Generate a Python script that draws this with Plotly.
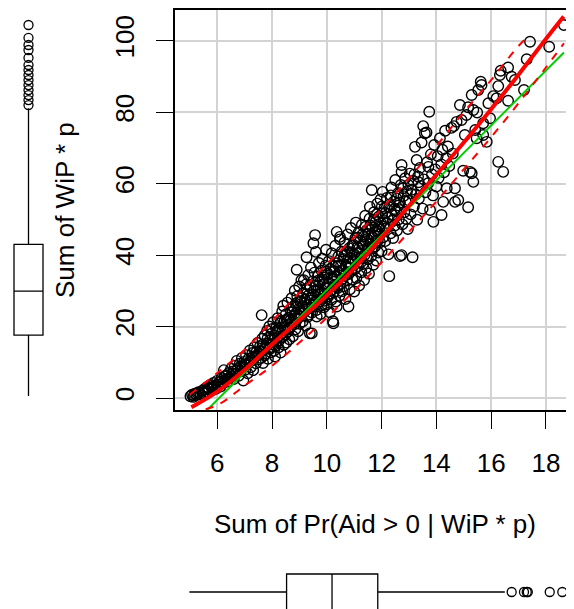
import plotly.graph_objects as go

# scatter points (x = Sum of Pr(Aid > 0 | WiP * p), y = Sum of WiP * p)
pts = [
    (5.02,0.5),(5.08,0.9),(5.12,0.3),(5.18,1.2),(5.25,0.8),(5.31,1.6),(5.38,1.1),(5.44,2.0),(5.49,1.4),(5.55,2.6),
    (5.58,1.9),(5.63,3.1),(5.7,2.4),(5.74,3.6),(5.81,2.9),(5.86,4.2),(5.9,3.3),(5.95,2.6),(5.99,4.8),(6.03,3.8),
    (6.08,4.5),(6.12,3.2),(6.16,5.6),(6.2,4.1),(6.24,7.8),(6.29,5.0),(6.33,6.3),(6.37,4.6),(6.42,7.0),(6.46,5.7),(6.5,8.2),(6.53,6.1),
    (6.57,7.4),(6.6,5.3),(6.64,9.0),(6.68,6.8),(6.71,10.4),(6.75,8.1),(6.78,6.2),(6.82,9.6),(6.86,7.5),(6.9,11.2),(6.93,8.7),(6.95,4.9),(6.98,10.1),(7.02,7.9),
    (7.05,12.0),(7.08,9.3),(7.11,6.9),(7.14,11.0),(7.19,13.3),(7.22,8.6),(7.25,10.5),(7.28,12.6),(7.31,7.8),(7.35,14.2),(7.38,11.6),(7.41,9.7),(7.44,13.0),(7.47,15.4),(7.5,10.8),(7.53,12.3),
    (7.56,14.5),(7.6,11.2),(7.62,23.2),(7.64,16.6),(7.67,9.8),(7.7,13.6),(7.73,17.5),(7.76,12.4),(7.79,15.2),(7.82,18.8),(7.85,11.0),(7.88,14.0),(7.9,20.0),(7.93,16.3),(7.96,12.8),(7.98,18.0),(8.01,15.0),(8.04,21.2),
    (8.07,13.2),(8.1,17.4),(8.11,11.6),(8.14,19.6),(8.17,15.8),(8.2,22.3),(8.23,14.1),(8.26,18.5),(8.29,20.9),(8.31,12.7),(8.34,16.9),(8.37,24.2),(8.4,19.0),(8.41,25.8),(8.43,14.9),(8.46,21.6),(8.48,17.8),(8.5,23.4),(8.52,15.5),(8.54,20.2),(8.56,26.7),(8.58,18.6),
    (8.61,22.5),(8.63,16.4),(8.66,24.8),(8.68,19.9),(8.71,27.9),(8.73,21.0),(8.76,17.3),(8.78,25.6),(8.8,23.0),(8.83,30.1),(8.85,19.2),(8.87,26.4),(8.9,35.9),(8.9,22.1),(8.92,28.5),(8.95,18.7),(8.97,24.9),(8.99,31.2),(9.01,20.8),(9.03,27.1),(9.05,23.6),(9.07,33.0),(9.1,25.7),(9.12,21.4),
    (9.14,29.4),(9.16,33.0),(9.18,24.1),(9.2,27.6),(9.22,20.3),(9.24,31.8),(9.26,39.4),(9.28,26.0),(9.3,22.7),(9.32,34.4),(9.34,28.8),(9.36,25.1),(9.38,18.1),(9.4,30.9),(9.42,36.5),(9.44,27.3),(9.45,18.1),(9.46,23.9),(9.48,32.6),(9.5,29.0),(9.51,43.3),(9.53,26.6),(9.55,35.1),(9.57,45.6),(9.59,31.5),(9.6,40.9),
    (9.62,24.6),(9.63,22.8),(9.65,28.2),(9.67,34.0),(9.69,30.3),(9.71,37.8),(9.73,26.9),(9.75,32.4),(9.77,23.5),(9.79,29.7),(9.81,35.6),(9.83,39.0),(9.85,27.8),(9.87,31.9),(9.89,25.4),(9.91,33.7),(9.93,29.1),(9.95,37.0),(9.97,41.5),(9.99,30.6),(10.01,26.2),(10.03,34.8),(10.05,28.4),(10.07,38.3),(10.09,32.2),(10.11,24.0),
    (10.13,36.1),(10.15,30.0),(10.17,27.5),(10.18,40.5),(10.2,33.3),(10.22,21.5),(10.24,20.9),(10.25,29.6),(10.27,35.4),(10.29,31.7),(10.31,42.6),(10.33,27.0),(10.35,37.7),(10.36,46.5),(10.36,25.6),(10.38,33.9),(10.4,30.8),(10.42,39.6),(10.44,35.0),(10.46,28.6),(10.48,44.4),(10.48,45.1),(10.5,32.0),(10.52,37.2),(10.54,41.0),(10.56,29.9),
    (10.58,35.8),(10.6,38.9),(10.62,31.3),(10.64,43.5),(10.66,34.2),(10.68,27.7),(10.7,40.1),(10.72,36.6),(10.74,32.9),(10.76,45.8),(10.78,38.1),(10.79,25.6),(10.8,34.7),(10.82,41.9),(10.84,30.4),(10.86,37.4),(10.88,47.6),(10.9,35.5),(10.92,40.8),(10.94,33.1),(10.96,43.0),(10.98,38.6),(11.0,29.8),(11.02,36.0),(11.04,44.7),(11.06,49.1),
    (11.08,33.6),(11.1,39.3),(11.12,42.2),(11.14,36.9),(11.16,46.3),(11.18,31.5),(11.2,40.6),(11.22,44.0),(11.24,38.0),(11.26,35.2),(11.28,48.5),(11.3,42.9),(11.32,37.5),(11.34,45.2),(11.36,33.0),(11.38,40.0),(11.4,51.0),(11.42,43.7),(11.44,36.4),(11.46,47.0),(11.48,41.3),(11.5,38.8),(11.52,45.9),(11.54,34.8),(11.56,50.2),(11.57,53.5),
    (11.6,43.2),(11.62,39.7),(11.64,58.2),(11.66,47.8),(11.68,41.8),(11.7,37.3),(11.72,52.0),(11.74,45.5),(11.76,42.4),(11.78,49.3),(11.8,38.5),(11.82,46.8),(11.84,54.4),(11.86,44.1),(11.88,40.7),(11.9,50.8),(11.92,47.2),(11.94,43.6),(11.96,55.6),(11.98,48.9),(12.0,41.1),(12.02,51.7),(12.04,57.7),(12.06,45.0),
    (12.08,49.8),(12.1,53.1),(12.13,43.9),(12.16,47.5),(12.19,56.0),(12.22,50.5),(12.25,40.2),(12.28,34.1),(12.3,54.2),(12.33,46.1),(12.36,58.9),(12.39,51.2),(12.42,44.8),(12.45,55.0),(12.48,48.3),(12.5,61.0),(12.53,52.4),(12.56,46.9),(12.6,57.3),(12.63,50.0),
    (12.67,39.7),(12.67,54.7),(12.7,59.6),(12.73,65.2),(12.73,63.3),(12.73,40.0),(12.76,48.6),(12.8,56.5),(12.83,52.0),(12.86,61.5),(12.9,50.1),(12.93,57.9),(12.96,47.3),(13.0,55.3),(13.03,62.8),(13.06,51.4),(13.1,58.3),(13.13,39.4),
    (13.15,60.8),(13.18,53.6),(13.22,70.3),(13.25,57.0),(13.28,66.6),(13.3,49.9),(13.33,62.0),(13.36,55.8),(13.4,64.4),(13.43,59.3),(13.46,71.5),(13.5,53.0),(13.52,76.1),(13.54,61.2),(13.58,74.1),(13.6,57.6),
    (13.64,74.3),(13.66,66.0),(13.7,60.1),(13.71,64.7),(13.74,80.1),(13.77,52.6),(13.8,68.2),(13.84,62.6),(13.88,56.7),(13.89,49.3),(13.92,70.8),(13.96,64.0),(14.0,59.2),(14.05,67.7),
    (14.08,61.6),(14.13,72.7),(14.18,65.4),(14.19,51.2),(14.22,69.5),(14.25,54.9),(14.28,63.2),(14.32,74.8),(14.36,67.1),(14.38,58.7),(14.42,70.4),(14.47,64.9),
    (14.55,75.6),(14.6,68.4),(14.64,76.1),(14.68,58.7),(14.68,54.9),(14.74,77.3),(14.8,55.4),(14.86,82.0),(14.92,77.8),(14.98,63.6),
    (15.04,73.6),(15.1,79.2),(15.16,81.4),(15.16,53.4),(15.23,63.3),(15.29,62.9),(15.29,84.8),(15.35,80.6),(15.35,60.5),(15.42,75.0),(15.47,72.7),(15.49,79.9),
    (15.53,86.2),(15.62,88.5),(15.65,87.6),(15.71,76.9),(15.71,73.6),(15.84,71.7),(15.9,82.5),(15.96,78.3),
    (16.08,84.5),(16.2,83.9),(16.26,87.3),(16.26,66.1),(16.32,90.4),(16.35,91.6),(16.44,63.3),(16.62,92.5),(16.62,83.2),(16.75,89.9),(16.87,89.0),
    (17.2,86.2),(17.3,94.8),(17.42,99.7),(18.12,98.3),(18.66,104.4),
    # denser core of the band
    (5.15,0.7),(5.28,1.3),(5.5,2.2),(5.67,2.8),(5.84,3.5),(6.0,3.1),(6.14,4.6),(6.27,6.1),(6.4,5.5),(6.55,6.8),(6.7,7.7),(6.85,8.9),(7.0,9.4),(7.16,10.0),(7.3,11.5),(7.45,12.0),
    (7.58,13.1),(7.66,15.0),(7.72,11.9),(7.84,16.8),(7.92,13.7),(8.0,19.3),(8.06,16.2),(8.13,14.6),(8.19,18.9),(8.25,16.0),(8.33,21.4),(8.39,17.1),(8.45,19.8),(8.53,22.0),(8.6,19.4),(8.67,21.8),(8.74,24.0),(8.81,20.6),(8.88,23.8),(8.94,26.8),
    (9.0,22.9),(9.08,28.0),(9.15,24.8),(9.21,26.5),(9.27,30.5),(9.33,23.3),(9.39,27.9),(9.47,25.8),(9.54,30.0),(9.61,27.0),(9.68,32.8),(9.74,29.0),(9.8,25.9),(9.86,33.2),(9.92,27.2),(9.98,35.3),
    (10.04,31.0),(10.1,29.2),(10.16,33.8),(10.23,36.8),(10.3,34.0),(10.37,31.2),(10.43,37.0),(10.5,35.6),(10.57,33.4),(10.63,39.8),(10.69,37.0),(10.75,41.0),(10.81,36.2),(10.87,39.2),(10.93,42.6),(10.99,40.3),
    (11.05,38.4),(11.11,44.9),(11.17,41.8),(11.23,39.1),(11.29,45.6),(11.35,43.0),(11.41,47.9),(11.47,44.5),(11.53,42.0),(11.59,48.3),(11.65,45.0),(11.71,49.9),(11.77,46.2),(11.83,51.4),(11.89,48.0),(11.95,45.8),
    (12.01,53.6),(12.07,47.9),(12.14,51.8),(12.2,49.0),(12.27,53.4),(12.34,56.7),(12.4,49.6),(12.47,52.9),(12.55,55.8),(12.62,53.9),(12.7,52.6),(12.78,58.7),(12.88,55.0),(12.98,59.6),(13.08,57.2),(13.2,62.6),(13.35,60.4),
]
x_pts = [p[0] for p in pts]
y_pts = [p[1] for p in pts]

# linear fit (green), read at its ends
fit_x = [5.0, 18.66]
fit_y = [-8.2, 96.7]

# smoother (red) and spread lines (red dashed)
smooth_x = [5.05, 6, 7, 8, 9, 10, 11, 12, 13, 14, 15, 16, 17, 18, 18.65]
smooth_y = [-2.6, 1.8, 7.9, 15.0, 21.8, 28.7, 36.3, 44.8, 53.8, 62.5, 71.5, 80.8, 90.5, 100.5, 106.8]
upper_x = [5.0, 6, 7, 8, 9, 10, 11, 12, 13, 14, 15, 16, 17, 17.4]
upper_y = [1.0, 7.0, 13.5, 21.5, 29.5, 37.5, 45.0, 53.0, 61.5, 70.5, 80.0, 89.0, 98.5, 101.5]
lower_x = [5.0, 6, 7, 8, 9, 10, 11, 12, 13, 14, 15, 16, 17, 18, 18.66]
lower_y = [-4.0, -2.0, 3.5, 9.0, 15.5, 22.5, 30.0, 38.0, 46.5, 55.0, 64.0, 73.0, 82.5, 92.5, 99.3]

# marginal boxplots
ybox = dict(lo=0.56, q1=17.6, med=29.9, q3=43.0, hi=81.1)
ybox_out = [82.0, 83.4, 84.8, 86.2, 87.6, 89.0, 90.4, 91.8, 93.2, 95.2, 97.4, 98.8, 100.8, 104.4]
xbox = dict(lo=4.98, q1=8.53, med=10.19, q3=11.86, hi=16.5)
xbox_out = [16.75, 17.2, 17.3, 17.34, 18.14, 18.6]

# the page body adds an 8px margin, so the figure is a bit smaller than the window
OFF = 8
W, H = 574 - OFF, 609 - OFF
FONT = "Liberation Sans, Arial, sans-serif"
FS = 26


def px_x(px):
    return (px - OFF) / W


def px_y(py):
    return 1 - (py - OFF) / H


XR = [4.455, 18.99]
YR = [-3.36, 108.6]

fig = go.Figure()

fig.add_trace(go.Scatter(x=x_pts, y=y_pts, mode="markers",
                         marker=dict(symbol="circle-open", size=10.5, color="black", line=dict(width=1.4))))
fig.add_trace(go.Scatter(x=fit_x, y=fit_y, mode="lines", line=dict(color="#00CD00", width=2)))
fig.add_trace(go.Scatter(x=smooth_x, y=smooth_y, mode="lines", line=dict(color="red", width=4, shape="spline")))
fig.add_trace(go.Scatter(x=upper_x, y=upper_y, mode="lines", line=dict(color="red", width=2, dash="8px,8px", shape="spline")))
fig.add_trace(go.Scatter(x=lower_x, y=lower_y, mode="lines", line=dict(color="red", width=2, dash="8px,8px", shape="spline")))

# left boxplot (y margin)
fig.add_trace(go.Box(x=[0], q1=[ybox["q1"]], median=[ybox["med"]], q3=[ybox["q3"]],
                     lowerfence=[ybox["lo"]], upperfence=[ybox["hi"]], width=1.415, whiskerwidth=0,
                     fillcolor="white", line=dict(color="black", width=1.3), boxpoints=False,
                     xaxis="x2", yaxis="y2"))
fig.add_trace(go.Scatter(x=[0] * len(ybox_out), y=ybox_out, mode="markers", xaxis="x2", yaxis="y2",
                         marker=dict(symbol="circle-open", size=9, color="black", line=dict(width=1.3))))

# bottom boxplot (x margin), its lower edge falls just off the page
fig.add_trace(go.Box(y=[0], q1=[xbox["q1"]], median=[xbox["med"]], q3=[xbox["q3"]],
                     lowerfence=[xbox["lo"]], upperfence=[xbox["hi"]], orientation="h", width=2.0, whiskerwidth=0,
                     fillcolor="white", line=dict(color="black", width=1.3), boxpoints=False,
                     xaxis="x3", yaxis="y3"))
fig.add_trace(go.Scatter(x=xbox_out, y=[0] * len(xbox_out), mode="markers", xaxis="x3", yaxis="y3",
                         marker=dict(symbol="circle-open", size=9, color="black", line=dict(width=1.3))))

axis_common = dict(showline=True, linecolor="black", linewidth=1.6, mirror=True,
                   showgrid=True, gridcolor="#D3D3D3", gridwidth=1.5, zeroline=False,
                   ticks="outside", ticklen=17, tickwidth=1.4, tickcolor="black",
                   tickfont=dict(family=FONT, size=FS, color="black"))

main_xdom = [px_x(175), px_x(573)]
main_ydom = [px_y(410), px_y(10)]

fig.update_layout(
    width=W, height=H, margin=dict(l=0, r=0, t=0, b=0),
    paper_bgcolor="white", plot_bgcolor="white", showlegend=False,
    xaxis=dict(domain=main_xdom, range=XR, tickvals=[6, 8, 10, 12, 14, 16, 18],
               anchor="y", ticklabelstandoff=12, **axis_common),
    yaxis=dict(domain=main_ydom, range=YR, tickvals=[0, 20, 40, 60, 80, 100],
               anchor="x", tickangle=-90, ticklabelstandoff=12, **axis_common),
    xaxis2=dict(domain=[px_x(8), px_x(49)], range=[-1, 1], visible=False, anchor="y2"),
    yaxis2=dict(domain=main_ydom, range=YR, visible=False, anchor="x2"),
    xaxis3=dict(domain=main_xdom, range=XR, visible=False, anchor="y3"),
    yaxis3=dict(domain=[0, 36 / H], range=[-17 / 18, 19 / 18], visible=False, anchor="x3"),
    annotations=[
        dict(text="Sum of Pr(Aid > 0 | WiP * p)", x=px_x(375), y=px_y(524), xref="paper", yref="paper",
             xanchor="center", yanchor="middle", showarrow=False,
             font=dict(family=FONT, size=FS, color="black")),
        dict(text="Sum of WiP * p", x=px_x(65), y=px_y(210), xref="paper", yref="paper", textangle=-90,
             xanchor="center", yanchor="middle", showarrow=False,
             font=dict(family=FONT, size=FS, color="black")),
    ],
)

fig.write_html("out.html")
